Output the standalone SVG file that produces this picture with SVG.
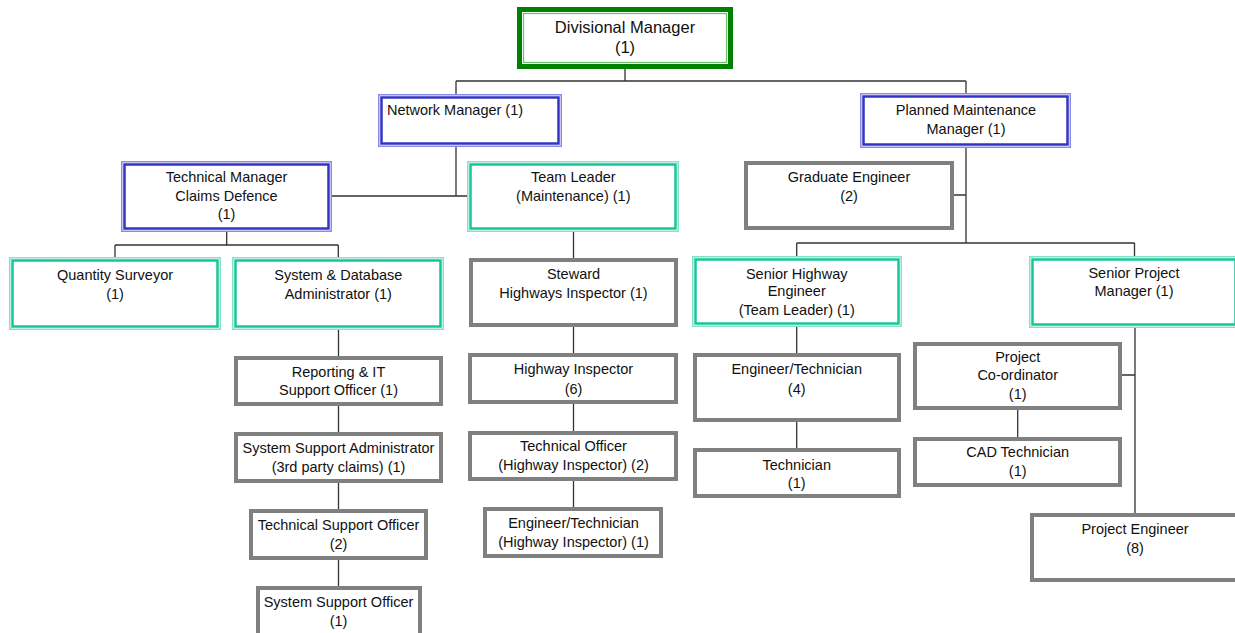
<svg xmlns="http://www.w3.org/2000/svg" width="1235" height="633" viewBox="0 0 1235 633">
<style>
text{font-family:"Liberation Sans",Arial,sans-serif;font-size:14.5px;fill:#111;text-anchor:middle}
.big{font-size:16.5px}
.g{fill:#fff;stroke:#808080;stroke-width:4}
.go{fill:#fff;stroke:#008000;stroke-width:5}
.gi{fill:none;stroke:#6cbf6c;stroke-width:1.2}
.bo{fill:#fff;stroke:#8c8ce8;stroke-width:1.5}
.bi{fill:none;stroke:#3434c4;stroke-width:2.5}
.to{fill:#fff;stroke:#86e0c6;stroke-width:1.5}
.ti{fill:none;stroke:#14c698;stroke-width:2.5}
.c{fill:none;stroke:#333;stroke-width:1.3}
</style>
<g id="connectors">
<path class="c" d="M625,69V81M456,81H966M456,81V94M966,81V93"/>
<path class="c" d="M456,147V196M332,196H467"/>
<path class="c" d="M226.7,232V245M115,245H338.3M115,245V257M338.3,245V257"/>
<path class="c" d="M338.5,330V356M338.5,406V432M338.5,483V509M338.5,560V586"/>
<path class="c" d="M573.5,232V258M573.5,327V353M573.5,404V431M573.5,481V507"/>
<path class="c" d="M966,148V243M954,195H966M796.7,243H1134.5M796.7,243V256M1134.5,243V256"/>
<path class="c" d="M796.7,327V353M796.7,422V448"/>
<path class="c" d="M1135,328V513M1122,375H1135"/>
<path class="c" d="M1017.7,410V437"/>
</g>
<g id="divisional-manager">
<rect class="go" x="519.5" y="9.5" width="211" height="57"/>
<rect class="gi" x="523.5" y="13.5" width="203" height="49"/>
<text class="big" x="625" y="33">Divisional Manager</text>
<text class="big" x="625" y="53">(1)</text>
</g>
<g id="network-manager">
<rect class="bo" x="378.75" y="94.75" width="182.5" height="51.5"/>
<rect class="bi" x="381.5" y="97.5" width="177" height="46"/>
<text x="455" y="115">Network Manager (1)</text>
</g>
<g id="planned-maintenance-manager">
<rect class="bo" x="860.75" y="93.75" width="209.5" height="53.5"/>
<rect class="bi" x="863.5" y="96.5" width="204" height="48"/>
<text x="966" y="115">Planned Maintenance</text>
<text x="966" y="134">Manager (1)</text>
</g>
<g id="technical-manager">
<rect class="bo" x="121.75" y="161.75" width="209.5" height="69.5"/>
<rect class="bi" x="124.5" y="164.5" width="204" height="64"/>
<text x="226.5" y="182">Technical Manager</text>
<text x="226.5" y="200.5">Claims Defence</text>
<text x="226.5" y="219">(1)</text>
</g>
<g id="team-leader">
<rect class="to" x="467.75" y="161.75" width="210.5" height="69.5"/>
<rect class="ti" x="470.5" y="164.5" width="205" height="64"/>
<text x="573.3" y="182">Team Leader</text>
<text x="573.3" y="200.5">(Maintenance) (1)</text>
</g>
<g id="graduate-engineer">
<rect class="g" x="746" y="163" width="206" height="65"/>
<text x="849" y="181.5">Graduate Engineer</text>
<text x="849" y="200.5">(2)</text>
</g>
<g id="quantity-surveyor">
<rect class="to" x="9.75" y="257.75" width="210.5" height="71.5"/>
<rect class="ti" x="12.5" y="260.5" width="205" height="66"/>
<text x="115" y="280">Quantity Surveyor</text>
<text x="115" y="299">(1)</text>
</g>
<g id="system-database-administrator">
<rect class="to" x="232.75" y="257.75" width="210.5" height="71.5"/>
<rect class="ti" x="235.5" y="260.5" width="205" height="66"/>
<text x="338.3" y="280">System &amp; Database</text>
<text x="338.3" y="299">Administrator (1)</text>
</g>
<g id="steward-highways-inspector">
<rect class="g" x="471" y="260" width="205" height="65"/>
<text x="573.5" y="278.5">Steward</text>
<text x="573.5" y="297.5">Highways Inspector (1)</text>
</g>
<g id="senior-highway-engineer">
<rect class="to" x="692.75" y="256.75" width="208.5" height="69.5"/>
<rect class="ti" x="695.5" y="259.5" width="203" height="64"/>
<text x="796.7" y="278.5">Senior Highway</text>
<text x="796.7" y="296">Engineer</text>
<text x="796.7" y="315">(Team Leader) (1)</text>
</g>
<g id="senior-project-manager">
<rect class="to" x="1029.75" y="256.75" width="208.5" height="70.5"/>
<rect class="ti" x="1032.5" y="259.5" width="203" height="65"/>
<text x="1134" y="277.5">Senior Project</text>
<text x="1134" y="296">Manager (1)</text>
</g>
<g id="reporting-it-support-officer">
<rect class="g" x="236" y="358" width="205" height="46"/>
<text x="338.5" y="377">Reporting &amp; IT</text>
<text x="338.5" y="395">Support Officer (1)</text>
</g>
<g id="system-support-administrator">
<rect class="g" x="236" y="434" width="205" height="47"/>
<text x="338.5" y="453">System Support Administrator</text>
<text x="338.5" y="472">(3rd party claims) (1)</text>
</g>
<g id="technical-support-officer">
<rect class="g" x="251" y="511" width="175" height="47"/>
<text x="338.5" y="530">Technical Support Officer</text>
<text x="338.5" y="549">(2)</text>
</g>
<g id="system-support-officer">
<rect class="g" x="258" y="588" width="162" height="47"/>
<text x="338.5" y="607">System Support Officer</text>
<text x="338.5" y="625.5">(1)</text>
</g>
<g id="highway-inspector">
<rect class="g" x="470" y="355" width="206" height="47"/>
<text x="573.5" y="374">Highway Inspector</text>
<text x="573.5" y="393.5">(6)</text>
</g>
<g id="technical-officer">
<rect class="g" x="470" y="433" width="206" height="46"/>
<text x="573.5" y="451">Technical Officer</text>
<text x="573.5" y="470">(Highway Inspector) (2)</text>
</g>
<g id="engineer-technician-hi">
<rect class="g" x="485" y="509" width="176" height="47"/>
<text x="573.5" y="527.5">Engineer/Technician</text>
<text x="573.5" y="547">(Highway Inspector) (1)</text>
</g>
<g id="engineer-technician">
<rect class="g" x="695" y="355" width="204" height="65"/>
<text x="796.7" y="373.5">Engineer/Technician</text>
<text x="796.7" y="393.5">(4)</text>
</g>
<g id="technician">
<rect class="g" x="695" y="450" width="204" height="46"/>
<text x="796.7" y="469.5">Technician</text>
<text x="796.7" y="488">(1)</text>
</g>
<g id="project-coordinator">
<rect class="g" x="915" y="344" width="205" height="64"/>
<text x="1017.7" y="362">Project</text>
<text x="1017.7" y="379.5">Co-ordinator</text>
<text x="1017.7" y="399">(1)</text>
</g>
<g id="cad-technician">
<rect class="g" x="915" y="439" width="205" height="46"/>
<text x="1017.7" y="457">CAD Technician</text>
<text x="1017.7" y="476">(1)</text>
</g>
<g id="project-engineer">
<rect class="g" x="1032" y="515" width="206" height="65"/>
<text x="1135" y="533.5">Project Engineer</text>
<text x="1135" y="552.5">(8)</text>
</g>
</svg>
